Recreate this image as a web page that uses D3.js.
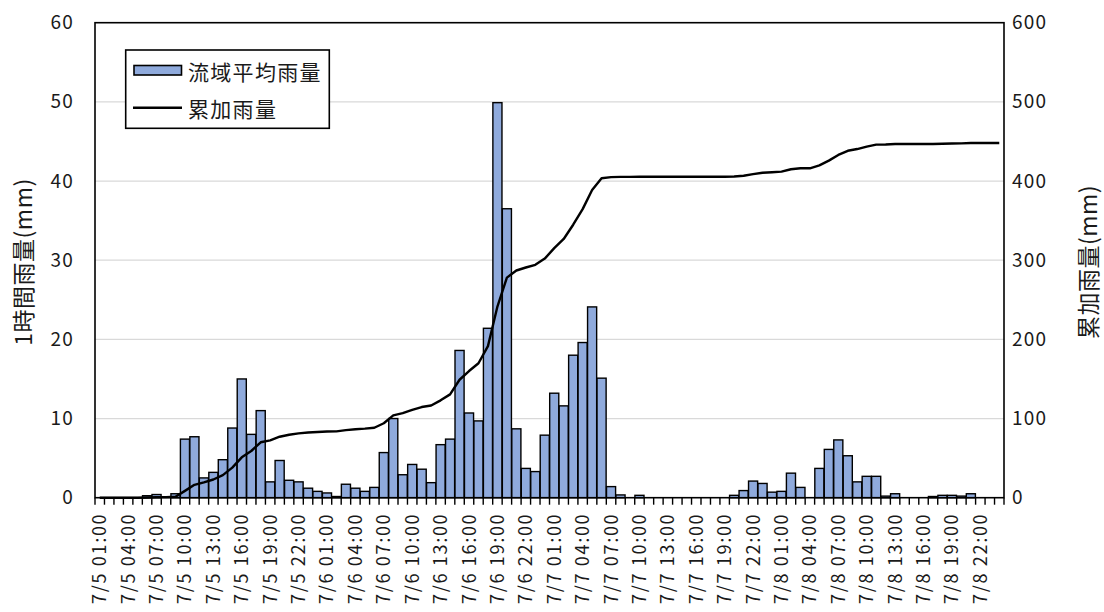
<!DOCTYPE html>
<html lang="ja">
<head>
<meta charset="utf-8">
<script src="https://cdn.jsdelivr.net/npm/d3@7/dist/d3.min.js"></script>
<style>
  html, body { margin: 0; padding: 0; background: #fff; }
  svg { display: block; }
  text { font-family: "Noto Sans CJK JP", "Noto Sans", sans-serif; fill: #1a1a1a; }
</style>
</head>
<body>
<svg id="chart" width="1104" height="612"></svg>
<script>
// Hourly time slots, 7/5 01:00 through 7/9 00:00
const startTime = new Date(2000, 6, 5, 1, 0);
const slotTimes = d3.range(96).map(i => new Date(startTime.getTime() + i * 3600e3));
const categories = slotTimes.map(d => d3.timeFormat("%-m/%-d %H:%M")(d));

// 流域平均雨量 (mm per hour)
const hourlyRain = [
  0, 0, 0, 0, 0, 0.25, 0.4, 0, 0.5, 7.4,
  7.7, 2.5, 3.2, 4.8, 8.8, 15.0, 8.0, 11.0, 2.0, 4.7,
  2.2, 2.0, 1.2, 0.8, 0.6, 0.15, 1.7, 1.2, 0.8, 1.3,
  5.7, 10.0, 2.9, 4.2, 3.6, 1.9, 6.7, 7.4, 18.6, 10.7,
  9.7, 21.4, 49.9, 36.5, 8.7, 3.7, 3.3, 7.9, 13.2, 11.6,
  18.0, 19.6, 24.1, 15.1, 1.4, 0.35, 0, 0.3, 0, 0,
  0, 0, 0, 0, 0, 0, 0, 0.3, 0.9, 2.1,
  1.8, 0.7, 0.8, 3.1, 1.3, 0, 3.7, 6.1, 7.3, 5.3,
  2.0, 2.7, 2.7, 0.2, 0.5, 0, 0, 0, 0.15, 0.3,
  0.3, 0.2, 0.5, 0, 0, 0
];

// 累加雨量 (mm, running total)
const cumulativeRain = [
  0, 0, 0, 0, 0, 0.3, 0.7, 0.7, 1.2, 8.6,
  16.3, 19.4, 23.0, 28.5, 38.0, 51.0, 59.0, 70.0, 72.5, 77.0,
  79.5, 81.3, 82.3, 83.0, 83.6, 83.8, 85.4, 86.5, 87.2, 88.4,
  94.0, 104.0, 106.8, 111.0, 114.5, 116.4, 123.0, 130.5, 149.0, 160.0,
  169.8, 191.5, 241.5, 278.0, 287.0, 290.8, 294.2, 302.0, 315.2, 326.8,
  344.8, 364.5, 388.6, 403.6, 404.9, 405.2, 405.2, 405.5, 405.5, 405.5,
  405.5, 405.5, 405.5, 405.5, 405.5, 405.5, 405.5, 405.8, 406.7, 408.7,
  410.5, 411.1, 411.9, 414.9, 416.1, 416.1, 419.8, 425.8, 433.0, 438.2,
  440.4, 443.5, 446.0, 446.2, 446.7, 446.7, 446.7, 446.7, 446.8, 447.1,
  447.4, 447.6, 448.0, 448.0, 448.0, 448.0
];

const leftTicks = [0, 10, 20, 30, 40, 50, 60];
const rightTicks = [0, 100, 200, 300, 400, 500, 600];
const seriesNames = ["流域平均雨量", "累加雨量"];
const leftTitle = "1時間雨量(mm)";
const rightTitle = "累加雨量(mm)";

const plot = { left: 95, right: 1004, top: 22.7, bottom: 497.7 };
const svg = d3.select("#chart");

const x = d3.scaleBand()
  .domain(categories)
  .range([plot.left, plot.right])
  .paddingInner(0.04)
  .paddingOuter(0.02);
const xSlot = d3.scaleBand().domain(categories).range([plot.left, plot.right]);
const yL = d3.scaleLinear().domain([0, 60]).range([plot.bottom, plot.top]);
const yR = d3.scaleLinear().domain([0, 600]).range([plot.bottom, plot.top]);

// horizontal gridlines
svg.append("g")
  .selectAll("line")
  .data(leftTicks.filter(t => t > 0 && t < 60))
  .join("line")
  .attr("x1", plot.left).attr("x2", plot.right)
  .attr("y1", d => yL(d)).attr("y2", d => yL(d))
  .attr("stroke", "#d9d9d9").attr("stroke-width", 1.3);

// hourly bars
svg.append("g")
  .selectAll("rect")
  .data(hourlyRain)
  .join("rect")
  .attr("x", (d, i) => x(categories[i]))
  .attr("width", x.bandwidth())
  .attr("y", d => yL(d))
  .attr("height", d => plot.bottom - yL(d))
  .attr("fill", "#8faadc")
  .attr("stroke", "#000")
  .attr("stroke-width", 1.4);

// cumulative line
const line = d3.line()
  .x((d, i) => xSlot(categories[i]) + xSlot.bandwidth() / 2)
  .y(d => yR(d));
svg.append("path")
  .datum(cumulativeRain)
  .attr("d", line)
  .attr("fill", "none")
  .attr("stroke", "#000")
  .attr("stroke-width", 2.4)
  .attr("stroke-linejoin", "round");

// plot frame
svg.append("rect")
  .attr("x", plot.left).attr("y", plot.top)
  .attr("width", plot.right - plot.left)
  .attr("height", plot.bottom - plot.top)
  .attr("fill", "none").attr("stroke", "#000").attr("stroke-width", 1.6);

// x axis: tick marks between every slot, labels every third hour
const xAxis = d3.axisBottom(xSlot)
  .tickValues(categories.filter((c, i) => i % 3 === 0))
  .tickSize(0)
  .tickPadding(0);
const gx = svg.append("g")
  .attr("transform", `translate(0,${plot.bottom})`)
  .call(xAxis);
gx.select(".domain").remove();
gx.selectAll("text")
  .attr("transform", "rotate(-90)")
  .attr("x", -15)
  .attr("y", 0)
  .attr("dy", "0.36em")
  .attr("text-anchor", "end")
  .attr("font-size", 18)
  .attr("letter-spacing", "1.7px")
  .attr("font-family", "'Noto Sans', sans-serif");

svg.append("g")
  .selectAll("line")
  .data(d3.range(categories.length + 1))
  .join("line")
  .attr("x1", i => plot.left + i * xSlot.step())
  .attr("x2", i => plot.left + i * xSlot.step())
  .attr("y1", plot.bottom)
  .attr("y2", plot.bottom + 7)
  .attr("stroke", "#000").attr("stroke-width", 1.4);

// y axes
const gl = svg.append("g")
  .attr("transform", `translate(${plot.left},0)`)
  .call(d3.axisLeft(yL).tickValues(leftTicks).tickSize(0).tickPadding(21));
gl.select(".domain").remove();
gl.selectAll("text")
  .attr("font-size", 19)
  .attr("letter-spacing", "1.2px")
  .attr("font-family", "'Noto Sans', sans-serif");

const gr = svg.append("g")
  .attr("transform", `translate(${plot.right},0)`)
  .call(d3.axisRight(yR).tickValues(rightTicks).tickSize(0).tickPadding(8));
gr.select(".domain").remove();
gr.selectAll("text")
  .attr("font-size", 19)
  .attr("letter-spacing", "1.2px")
  .attr("font-family", "'Noto Sans', sans-serif");

// axis titles
svg.append("text")
  .attr("transform", `translate(22,262) rotate(-90)`)
  .attr("text-anchor", "middle")
  .attr("dominant-baseline", "central")
  .attr("font-size", 23)
  .attr("letter-spacing", "0.5px")
  .text(leftTitle);
svg.append("text")
  .attr("transform", `translate(1087,262) rotate(-90)`)
  .attr("text-anchor", "middle")
  .attr("dominant-baseline", "central")
  .attr("font-size", 23)
  .attr("letter-spacing", "0.5px")
  .text(rightTitle);

// legend
const lg = svg.append("g");
lg.append("rect")
  .attr("x", 125.7).attr("y", 50)
  .attr("width", 203.6).attr("height", 78.3)
  .attr("fill", "#fff").attr("stroke", "#000").attr("stroke-width", 1.6);
lg.append("rect")
  .attr("x", 134).attr("y", 65.5).attr("width", 47.5).attr("height", 9.5)
  .attr("fill", "#8faadc").attr("stroke", "#000").attr("stroke-width", 1.6);
lg.append("line")
  .attr("x1", 133).attr("x2", 182).attr("y1", 107.7).attr("y2", 107.7)
  .attr("stroke", "#000").attr("stroke-width", 2.4);
lg.selectAll("text")
  .data(seriesNames)
  .join("text")
  .attr("x", 188)
  .attr("y", (d, i) => i === 0 ? 70.5 : 108)
  .attr("dominant-baseline", "central")
  .attr("font-size", 21)
  .attr("letter-spacing", "1.3px")
  .text(d => d);
</script>
</body>
</html>
